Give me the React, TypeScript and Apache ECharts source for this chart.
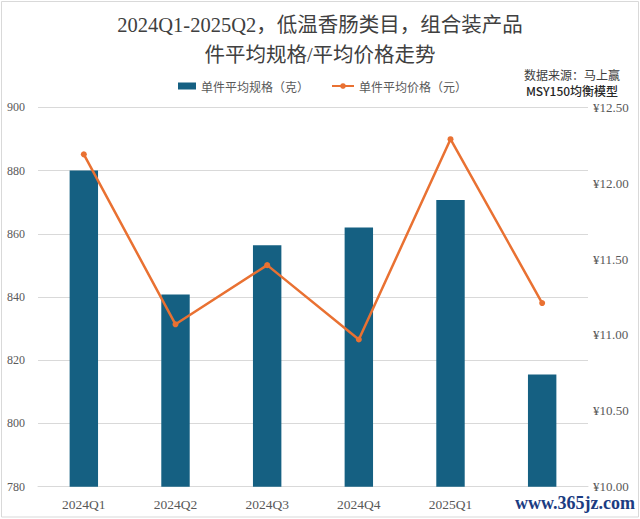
import React, { useEffect, useRef } from "react";
import * as echarts from "echarts";

const categories = ["2024Q1", "2024Q2", "2024Q3", "2024Q4", "2025Q1", "2025Q2"];
const avgSpec = [880, 840.8, 856.4, 862, 870.7, 815.5];
const avgPrice = [12.19, 11.07, 11.46, 10.97, 12.29, 11.21];
const leftTicks = { min: 780, max: 900, interval: 20 };
const rightTicks = { min: 10, max: 12.5, interval: 0.5 };

const seriesNames = ["单件平均规格（克）", "单件平均价格（元）"];
const titleLines = ["2024Q1-2025Q2，低温香肠类目，组合装产品", "件平均规格/平均价格走势"];
const sourceLines = ["数据来源：马上赢", "MSY150均衡模型"];
const watermark = "www.365jz.com";

const SERIF = "'Liberation Serif', 'Noto Sans CJK SC', serif";
const CJK = "'Noto Sans CJK SC', sans-serif";

export default function App() {
  const ref = useRef<HTMLDivElement>(null);
  useEffect(() => {
    document.body.style.margin = "0";
    if (!ref.current) return;
    const chart = echarts.init(ref.current, null, { renderer: "svg" });
    chart.setOption({
      animation: false,
      backgroundColor: "#ffffff",
      legend: [
        {
          data: [seriesNames[0]],
          left: 178,
          top: 80,
          padding: 0,
          itemWidth: 18,
          itemHeight: 7,
          icon: "rect",
          textStyle: { fontFamily: CJK, fontSize: 12, color: "#595959" },
        },
        {
          data: [seriesNames[1]],
          left: 331,
          top: 80,
          padding: 0,
          itemWidth: 22,
          itemHeight: 7,
          textStyle: { fontFamily: CJK, fontSize: 12, color: "#595959" },
        },
      ],
      grid: {
        left: 38,
        right: 52,
        top: 107.3,
        bottom: 32.3,
        containLabel: false,
        outerBoundsMode: "none",
      },
      xAxis: {
        type: "category",
        data: categories,
        axisLine: { show: true, lineStyle: { color: "#d9d9d9", width: 1 } },
        axisTick: { show: false },
        axisLabel: {
          margin: 11,
          fontFamily: SERIF,
          fontSize: 13.5,
          color: "#595959",
          interval: (i: number) => i < categories.length - 1,
        },
      },
      yAxis: [
        {
          type: "value",
          min: leftTicks.min,
          max: leftTicks.max,
          interval: leftTicks.interval,
          axisLine: { show: false },
          axisTick: { show: false },
          splitLine: { lineStyle: { color: "#d9d9d9", width: 1 } },
          axisLabel: {
            margin: 13,
            fontFamily: SERIF,
            fontSize: 12,
            color: "#595959",
          },
        },
        {
          type: "value",
          position: "right",
          min: rightTicks.min,
          max: rightTicks.max,
          interval: rightTicks.interval,
          axisLine: { show: false },
          axisTick: { show: false },
          splitLine: { show: false },
          axisLabel: {
            margin: 5,
            fontFamily: SERIF,
            fontSize: 13,
            color: "#595959",
            formatter: (v: number) => "¥" + v.toFixed(2),
          },
        },
      ],
      series: [
        {
          name: seriesNames[0],
          type: "bar",
          data: avgSpec,
          yAxisIndex: 0,
          barWidth: "31%",
          itemStyle: { color: "#156082" },
        },
        {
          name: seriesNames[1],
          type: "line",
          data: avgPrice,
          yAxisIndex: 1,
          symbol: "circle",
          symbolSize: 6,
          lineStyle: { color: "#E97132", width: 2.5 },
          itemStyle: { color: "#E97132" },
        },
      ],
      graphic: [
        {
          type: "rect",
          shape: { x: 1.5, y: 1.5, width: 637, height: 515.5 },
          style: { fill: "none", stroke: "#d9d9d9", lineWidth: 1 },
          silent: true,
          z: 100,
        },
        {
          type: "text",
          x: 320,
          y: 25,
          style: {
            text: titleLines[0],
            fontFamily: SERIF,
            fontSize: 20.5,
            fill: "#404040",
            align: "center",
            verticalAlign: "middle",
          },
        },
        {
          type: "text",
          x: 320,
          y: 55,
          style: {
            text: titleLines[1],
            fontFamily: SERIF,
            fontSize: 20.5,
            fill: "#404040",
            align: "center",
            verticalAlign: "middle",
          },
        },
        {
          type: "text",
          x: 572,
          y: 74.3,
          style: {
            text: sourceLines[0],
            fontFamily: CJK,
            fontSize: 12,
            fill: "#404040",
            align: "center",
            verticalAlign: "middle",
          },
        },
        {
          type: "text",
          x: 572,
          y: 90,
          style: {
            text: sourceLines[1],
            fontFamily: CJK,
            fontSize: 12,
            fontWeight: 500,
            fill: "#262626",
            align: "center",
            verticalAlign: "middle",
          },
        },
        {
          type: "text",
          x: 575,
          y: 503,
          z: 102,
          style: {
            text: watermark,
            fontFamily: "'Liberation Serif', serif",
            fontSize: 18,
            fontWeight: "bold",
            fill: "#1b3c82",
            align: "center",
            verticalAlign: "middle",
          },
        },
      ],
    });
    return () => chart.dispose();
  }, []);
  return <div ref={ref} style={{ width: 640, height: 519 }} />;
}
